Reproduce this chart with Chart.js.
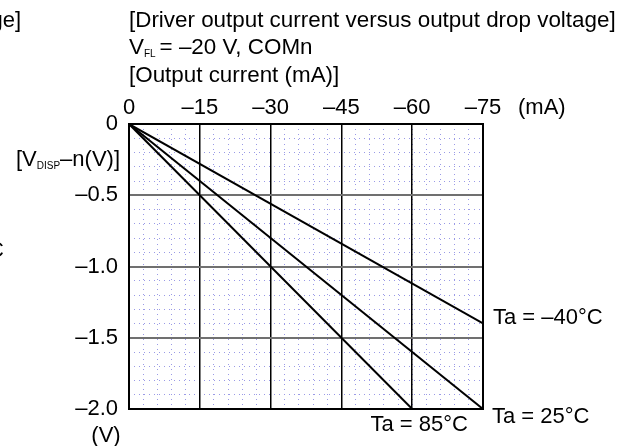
<!DOCTYPE html>
<html>
<head>
<meta charset="utf-8">
<script src="https://cdn.jsdelivr.net/npm/chart.js@4"></script>
<style>
  html, body { margin: 0; padding: 0; background: #fff; }
  #wrap { width: 622px; height: 446px; position: relative; }
</style>
</head>
<body>
<div id="wrap"><canvas id="chart"></canvas></div>
<script>
// output current (mA) and output drop voltage (V)
const xTicks = [0, -15, -30, -45, -60, -75];
const yTicks = [0, -0.5, -1.0, -1.5, -2.0];
const seriesNames = ['Ta = –40°C', 'Ta = 25°C', 'Ta = 85°C'];
const taM40Current = [0, -75];
const taM40Drop = [0, -1.4];
const ta25Current = [0, -75];
const ta25Drop = [0, -2.0];
const ta85Current = [0, -60];
const ta85Drop = [0, -2.0];

const FONT = '"Liberation Sans", Arial, sans-serif';

function toPoints(xs, ys) {
  return xs.map((x, i) => ({ x: x, y: ys[i] }));
}

function dash(v, digits) {
  if (v === 0) return '0';
  return '–' + Math.abs(v).toFixed(digits);
}

// frame, titles and curve labels
const extras = {
  id: 'extras',
  afterDatasetsDraw(chart) {
    const { ctx, chartArea: a } = chart;
    ctx.save();
    ctx.strokeStyle = '#000';
    ctx.lineWidth = 2;
    ctx.strokeRect(a.left, a.top, a.right - a.left, a.bottom - a.top);

    ctx.fillStyle = '#000';
    ctx.textBaseline = 'middle';
    ctx.font = '22px ' + FONT;
    ctx.textAlign = 'right';
    ctx.fillText('voltage]', 21, 21);
    ctx.fillText('°C', 4, 251);
    ctx.textAlign = 'left';
    ctx.font = '22.4px ' + FONT;
    ctx.fillText('[Driver output current versus output drop voltage]', 129, 21);
    ctx.fillText('[Output current (mA)]', 129, 76);

    // V_FL line with subscript
    let x = 129;
    ctx.fillText('V', x, 48); x += ctx.measureText('V').width;
    ctx.font = '10px ' + FONT;
    ctx.fillText('FL', x, 54); x += ctx.measureText('FL').width + 4;
    ctx.font = '22.4px ' + FONT;
    ctx.fillText('= –20 V, COMn', x, 48);

    // y axis title with subscript
    const parts = [['[V', 22, 0], ['DISP', 10, 6], ['–n(V)]', 22, 0]];
    let w = 0;
    parts.forEach(p => { ctx.font = p[1] + 'px ' + FONT; w += ctx.measureText(p[0]).width; });
    x = 120 - w;
    parts.forEach(p => {
      ctx.font = p[1] + 'px ' + FONT;
      ctx.fillText(p[0], x, 160 + p[2]);
      x += ctx.measureText(p[0]).width;
    });

    ctx.font = '22px ' + FONT;
    ctx.fillText('(mA)', 518, 108);
    ctx.textAlign = 'center';
    ctx.fillText('(V)', 106, 436);

    // curve labels next to the line ends
    const xs = chart.scales.x, ys = chart.scales.y;
    const end = (cx, cy) => [xs.getPixelForValue(cx), ys.getPixelForValue(cy)];
    let p = end(taM40Current[1], taM40Drop[1]);
    ctx.textAlign = 'left';
    ctx.fillText(seriesNames[0], p[0] + 10, p[1] - 6);
    p = end(ta25Current[1], ta25Drop[1]);
    ctx.fillText(seriesNames[1], p[0] + 9, p[1] + 8);
    p = end(ta85Current[1], ta85Drop[1]);
    ctx.textAlign = 'center';
    ctx.fillText(seriesNames[2], p[0] + 7, p[1] + 16);
    ctx.restore();
  }
};

const lineStyle = { borderColor: '#000', borderWidth: 2, pointRadius: 0, fill: false, tension: 0 };

new Chart(document.getElementById('chart'), {
  type: 'line',
  data: {
    datasets: [
      Object.assign({ label: seriesNames[0], data: toPoints(taM40Current, taM40Drop) }, lineStyle),
      Object.assign({ label: seriesNames[1], data: toPoints(ta25Current, ta25Drop) }, lineStyle),
      Object.assign({ label: seriesNames[2], data: toPoints(ta85Current, ta85Drop) }, lineStyle)
    ]
  },
  options: {
    responsive: true,
    maintainAspectRatio: false,
    animation: false,
    layout: { padding: { left: 0, top: 0, right: 139, bottom: 37 } },
    plugins: { legend: { display: false }, tooltip: { enabled: false } },
    scales: {
      xMinor: {
        type: 'linear', axis: 'x', position: 'top', min: -75, max: 0, reverse: true,
        ticks: { display: false, stepSize: 3 },
        grid: { color: '#9a9ae6', lineWidth: 1, drawTicks: false },
        border: { display: false, dash: [1, 4] },
        afterFit(s) { s.height = 0; }
      },
      yMinor: {
        type: 'linear', axis: 'y', position: 'left', min: -2, max: 0,
        ticks: { display: false, stepSize: 0.1 },
        grid: { color: '#9a9ae6', lineWidth: 1, drawTicks: false },
        border: { display: false, dash: [1, 4] },
        afterFit(s) { s.width = 0; }
      },
      x: {
        type: 'linear', position: 'top', min: -75, max: 0, reverse: true,
        afterBuildTicks(s) { s.ticks = xTicks.map(v => ({ value: v })); },
        ticks: {
          color: '#000', padding: 3, maxRotation: 0,
          font: { family: FONT, size: 22 },
          callback: v => dash(v, 0)
        },
        grid: { color: '#000', lineWidth: 1.5, drawTicks: false },
        border: { display: false },
        afterFit(s) { s.height = 124; }
      },
      y: {
        type: 'linear', position: 'left', min: -2, max: 0,
        afterBuildTicks(s) { s.ticks = yTicks.map(v => ({ value: v })); },
        ticks: {
          color: '#000', padding: 11,
          font: { family: FONT, size: 22 },
          callback: v => dash(v, v === 0 ? 0 : 1)
        },
        grid: { color: '#707070', lineWidth: 2, drawTicks: false },
        border: { display: false },
        afterFit(s) { s.width = 129; }
      }
    }
  },
  plugins: [extras]
});
</script>
</body>
</html>
